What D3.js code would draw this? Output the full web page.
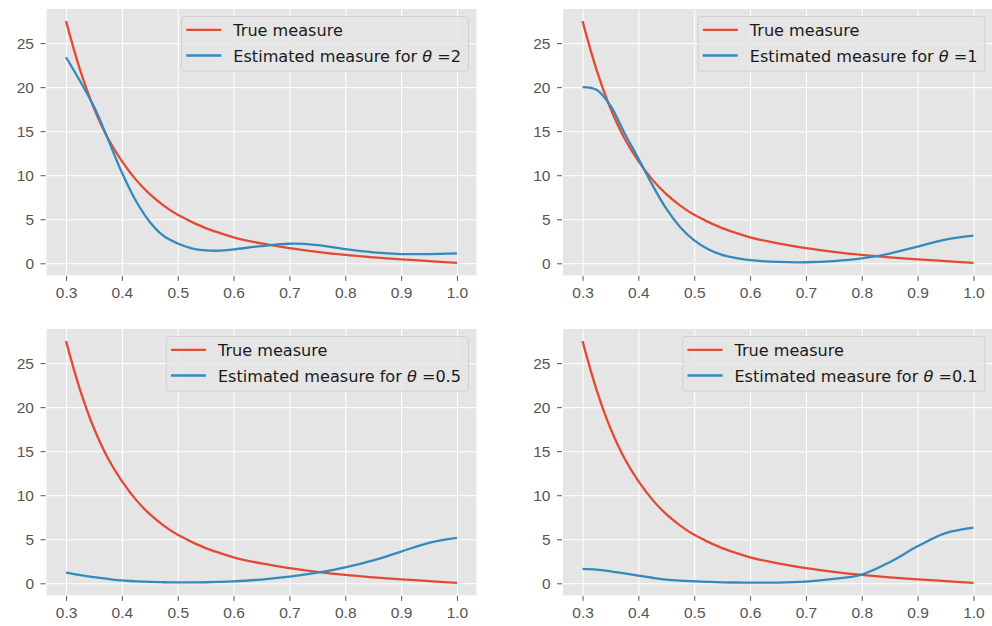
<!DOCTYPE html>
<html>
<head>
<meta charset="utf-8">
<script src="https://cdn.jsdelivr.net/npm/d3@7"></script>
<style>
  body { margin: 0; background: #fff; }
  svg { display: block; font-family: "DejaVu Sans", sans-serif; }
  .tick text { fill: #555555; font-size: 15.5px; }
  .tick line { stroke: #555555; }
  .grid .tick line { stroke: #ffffff; stroke-width: 1.1; }
  .legendText { fill: #1a1a1a; font-size: 16.1px; }
</style>
</head>
<body>
<div class="chart"></div>
<script>
// values
var xGrid = [0.3, 0.325, 0.35, 0.375, 0.4, 0.425, 0.45, 0.475, 0.5, 0.525, 0.55, 0.575,
             0.6, 0.65, 0.7, 0.75, 0.8, 0.85, 0.9, 0.95, 1.0];
var trueMeasure = [27.5, 22.0, 17.6, 14.2, 11.6, 9.5, 7.85, 6.55, 5.5, 4.7, 4.0, 3.45,
                   2.95, 2.25, 1.72, 1.3, 0.95, 0.68, 0.45, 0.25, 0.05];
var estTheta2   = [23.4, 20.7, 17.8, 14.1, 10.3, 7.1, 4.7, 3.1, 2.25, 1.7, 1.47, 1.43,
                   1.58, 1.95, 2.22, 2.07, 1.6, 1.24, 1.05, 1.05, 1.13];
var estTheta1   = [20.0, 19.7, 17.9, 14.8, 11.9, 8.9, 6.2, 4.1, 2.6, 1.6, 0.95, 0.6,
                   0.35, 0.15, 0.12, 0.25, 0.55, 1.1, 1.9, 2.7, 3.15];
var estTheta05  = [1.2, 0.92, 0.7, 0.5, 0.32, 0.22, 0.15, 0.12, 0.1, 0.1, 0.12, 0.16,
                   0.22, 0.42, 0.75, 1.2, 1.8, 2.6, 3.6, 4.6, 5.15];
var estTheta01  = [1.63, 1.55, 1.36, 1.12, 0.87, 0.63, 0.42, 0.3, 0.23, 0.16, 0.11, 0.09,
                   0.08, 0.08, 0.19, 0.49, 0.99, 2.4, 4.2, 5.7, 6.33];

var thetaLabels = ["2", "1", "0.5", "0.1"];
var estimates = [estTheta2, estTheta1, estTheta05, estTheta01];

var xTicks = [0.3, 0.4, 0.5, 0.6, 0.7, 0.8, 0.9, 1.0];
var yTicks = [0, 5, 10, 15, 20, 25];

var red = "#E24A33", blue = "#348ABD";

var svg = d3.select(".chart").append("svg")
            .attr("width", 992)
            .attr("height", 626);

// panel boxes (col, row)
var colLeft = [46.5, 563], colWidth = 430;
var rowTop = [9, 329], rowHeight = 266.4;

function drawPanel(i) {
  var col = i % 2, row = Math.floor(i / 2);
  var x0 = colLeft[col], y0 = rowTop[row];

  var g = svg.append("g").attr("transform", "translate(" + x0 + "," + y0 + ")");

  var scaleX = d3.scaleLinear().domain([0.265, 1.035]).range([0, colWidth]);
  var scaleY = d3.scaleLinear().domain([-1.375, 28.875]).range([rowHeight, 0]);

  g.append("rect")
    .attr("width", colWidth)
    .attr("height", rowHeight)
    .attr("fill", "#E5E5E5");

  // white grid
  g.append("g").attr("class", "grid")
    .call(d3.axisBottom(scaleX).tickValues(xTicks).tickSize(rowHeight).tickFormat(""))
    .call(function(s) { s.select(".domain").remove(); });
  g.append("g").attr("class", "grid")
    .call(d3.axisLeft(scaleY).tickValues(yTicks).tickSize(-colWidth).tickFormat(""))
    .call(function(s) { s.select(".domain").remove(); });

  // axes
  g.append("g")
    .attr("transform", "translate(0," + (rowHeight + 0.5) + ")")
    .call(d3.axisBottom(scaleX).tickValues(xTicks).tickSize(5).tickPadding(6.4)
            .tickFormat(d3.format(".1f")))
    .call(function(s) { s.select(".domain").remove(); });
  g.append("g")
    .attr("transform", "translate(-1,0)")
    .call(d3.axisLeft(scaleY).tickValues(yTicks).tickSize(5).tickPadding(6.5))
    .call(function(s) { s.select(".domain").remove(); });

  var line = d3.line()
    .x(function(d, k) { return scaleX(xGrid[k]); })
    .y(function(d) { return scaleY(d); })
    .curve(d3.curveCatmullRom.alpha(0.5));

  g.append("path").datum(trueMeasure)
    .attr("d", line)
    .attr("fill", "none")
    .attr("stroke", red)
    .attr("stroke-width", 2.3);

  g.append("path").datum(estimates[i])
    .attr("d", line)
    .attr("fill", "none")
    .attr("stroke", blue)
    .attr("stroke-width", 2.3);

  // legend, upper right
  var legend = g.append("g");
  var box = legend.append("rect")
    .attr("rx", 3).attr("ry", 3)
    .attr("fill", "#E5E5E5").attr("fill-opacity", 0.8)
    .attr("stroke", "#cccccc").attr("stroke-opacity", 0.8)
    .attr("height", 54.7);

  legend.append("line")
    .attr("x1", 4.7).attr("x2", 39.7).attr("y1", 13.3).attr("y2", 13.3)
    .attr("stroke", red).attr("stroke-width", 2.3);
  legend.append("line")
    .attr("x1", 4.7).attr("x2", 39.7).attr("y1", 39).attr("y2", 39)
    .attr("stroke", blue).attr("stroke-width", 2.3);

  legend.append("text").attr("class", "legendText")
    .attr("x", 51.7).attr("y", 19.8)
    .text("True measure");
  var t2 = legend.append("text").attr("class", "legendText")
    .attr("x", 51.7).attr("y", 45.5);
  t2.append("tspan").text("Estimated measure for ");
  t2.append("tspan").style("font-style", "italic").text("θ");
  t2.append("tspan").text(" =" + thetaLabels[i]);

  var w = 51.7 + t2.node().getComputedTextLength() + 7.5;
  box.attr("width", w);
  legend.attr("transform", "translate(" + (colWidth - 8 - w) + ",7.5)");
}

for (var i = 0; i < 4; i++) drawPanel(i);
</script>
</body>
</html>
